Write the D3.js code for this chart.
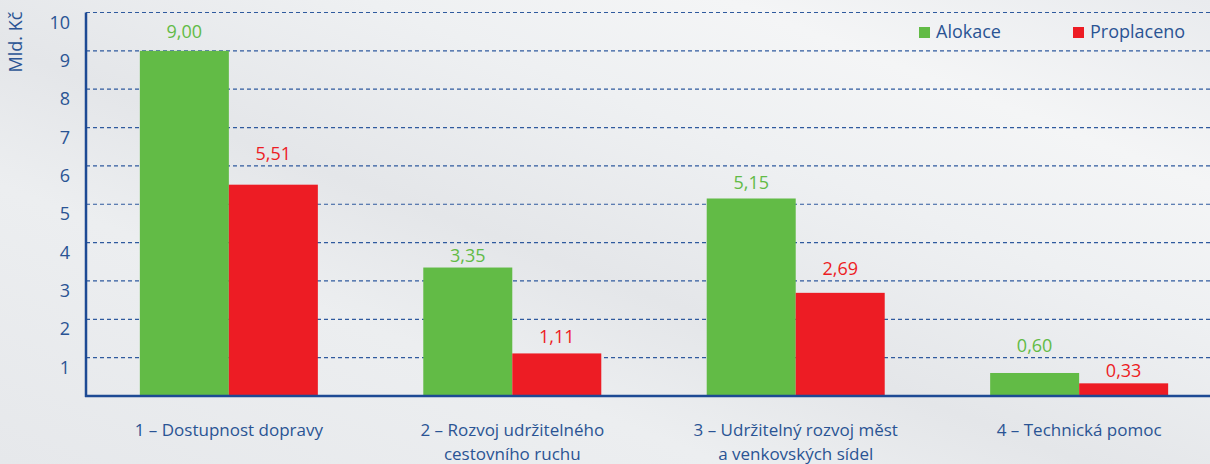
<!DOCTYPE html>
<html>
<head>
<meta charset="utf-8">
<script src="https://cdn.jsdelivr.net/npm/d3@7"></script>
<style>
  body { margin: 0; }
  svg text { font-family: "Open Sans", "Noto Sans", sans-serif; }
</style>
</head>
<body>
<div id="chart"></div>
<script>
// Data
const categories = [
  ['1 – Dostupnost dopravy'],
  ['2 – Rozvoj udržitelného', 'cestovního ruchu'],
  ['3 – Udržitelný rozvoj měst', 'a venkovských sídel'],
  ['4 – Technická pomoc']
]
const series = ['Alokace', 'Proplaceno']
const alokace = [9.00, 3.35, 5.15, 0.60]
const proplaceno = [5.51, 1.11, 2.69, 0.33]
const yTicks = [1, 2, 3, 4, 5, 6, 7, 8, 9, 10]

// Canvas
const width = 1210,
  height = 464,
  marginLeft = 86,
  marginTop = 12.5,
  baseline = 396

const colors = { Alokace: '#62bb46', Proplaceno: '#ed1c24' }
const blue = '#1d4a94',
  textBlue = '#2a5494'

let svg = d3.select('#chart')
  .append('svg')
  .attr('width', width)
  .attr('height', height)

// background gradient
let defs = svg.append('defs')
let grad = defs.append('linearGradient')
  .attr('id', 'bg')
  .attr('x1', '0%').attr('y1', '100%')
  .attr('x2', '100%').attr('y2', '0%')
grad.selectAll('stop')
  .data([
    ['0%', '#e6e8eb'], ['30%', '#eceef0'], ['45%', '#e4e6e9'],
    ['65%', '#eef0f2'], ['80%', '#f4f5f6'], ['100%', '#e9ebee']
  ])
  .enter().append('stop')
  .attr('offset', d => d[0])
  .attr('stop-color', d => d[1])
svg.append('rect')
  .attr('width', width).attr('height', height)
  .attr('fill', 'url(#bg)')

let keys = categories.map((c, i) => i)

let x0 = d3.scaleBand()
  .domain(keys)
  .range([marginLeft, 1222])
  .paddingInner(0.372)
  .paddingOuter(0.19)

let x1 = d3.scaleBand()
  .domain(series)
  .range([0, x0.bandwidth()])

let y = d3.scaleLinear()
  .domain([0, 10])
  .range([baseline, marginTop])

// grid lines
svg.append('g')
  .selectAll('line')
  .data(yTicks)
  .enter().append('line')
  .attr('x1', marginLeft)
  .attr('x2', width)
  .attr('y1', d => y(d))
  .attr('y2', d => y(d))
  .attr('stroke', '#2f5a9e')
  .attr('stroke-width', 1.2)
  .attr('stroke-dasharray', '4,3')

// y labels (sit below their grid line)
svg.append('g')
  .selectAll('text')
  .data(yTicks)
  .enter().append('text')
  .attr('x', 70)
  .attr('y', d => y(d) + 16)
  .attr('text-anchor', 'end')
  .attr('fill', textBlue)
  .style('font-size', '18px')
  .text(d => d)

svg.append('text')
  .attr('transform', 'translate(22,42) rotate(-90)')
  .attr('text-anchor', 'middle')
  .attr('fill', textBlue)
  .style('font-size', '18px')
  .text('Mld. Kč')

// bars
let rows = keys.map(i => series.map((s, j) => ({
  cat: i, key: s, value: j === 0 ? alokace[i] : proplaceno[i]
})))

let groups = svg.append('g')
  .selectAll('g')
  .data(rows)
  .enter().append('g')
  .attr('transform', (d, i) => `translate(${x0(i)},0)`)

groups.selectAll('rect')
  .data(d => d)
  .enter().append('rect')
  .attr('x', d => x1(d.key))
  .attr('y', d => y(d.value))
  .attr('width', x1.bandwidth())
  .attr('height', d => baseline - y(d.value))
  .attr('fill', d => colors[d.key])

// value label: between bar top and next grid line, or above that line if gap is small
let labelY = (v) => {
  let top = y(v)
  let line = y(Math.floor(v) + 1)
  let center = (top - line) >= 22 ? (top + line) / 2 : line - 12
  return center + 6.5
}

groups.selectAll('text')
  .data(d => d)
  .enter().append('text')
  .attr('x', d => x1(d.key) + x1.bandwidth() / 2)
  .attr('y', d => labelY(d.value))
  .attr('text-anchor', 'middle')
  .attr('fill', d => colors[d.key])
  .style('font-size', '18px')
  .text(d => d.value.toFixed(2).replace('.', ','))

// axes lines
svg.append('line')
  .attr('x1', marginLeft).attr('x2', marginLeft)
  .attr('y1', marginTop).attr('y2', baseline + 1)
  .attr('stroke', blue).attr('stroke-width', 2.5)
svg.append('line')
  .attr('x1', marginLeft - 1).attr('x2', width)
  .attr('y1', baseline).attr('y2', baseline)
  .attr('stroke', blue).attr('stroke-width', 2.5)

// category labels
let catLabels = svg.append('g')
  .selectAll('text')
  .data(categories)
  .enter().append('text')
  .attr('x', (d, i) => x0(i) + x0.bandwidth() / 2)
  .attr('y', 436)
  .attr('text-anchor', 'middle')
  .attr('fill', textBlue)
  .style('font-size', '17px')
catLabels.selectAll('tspan')
  .data(d => d)
  .enter().append('tspan')
  .attr('x', function () { return d3.select(this.parentNode).attr('x') })
  .attr('dy', (d, i) => i === 0 ? 0 : 24)
  .text(d => d)

// legend
let legend = svg.append('g')
  .selectAll('g')
  .data(series)
  .enter().append('g')
  .attr('transform', (d, i) => `translate(${919 + i * 154},27)`)
legend.append('rect')
  .attr('width', 11).attr('height', 11)
  .attr('fill', d => colors[d])
legend.append('text')
  .attr('x', 17).attr('y', 11)
  .attr('fill', textBlue)
  .style('font-size', '18px')
  .text(d => d)
</script>
</body>
</html>
